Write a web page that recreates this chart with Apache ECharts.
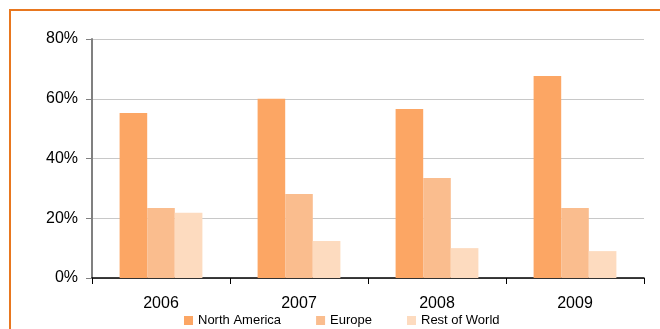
<!DOCTYPE html>
<html>
<head>
<meta charset="utf-8">
<script src="https://cdn.jsdelivr.net/npm/echarts@6/dist/echarts.min.js"></script>
<style>
html,body{margin:0;padding:0;background:#fff;}
#chart{width:660px;height:329px;}
</style>
</head>
<body>
<div id="chart"></div>
<script>
var years = ['2006', '2007', '2008', '2009'];
var northAmerica = [55.2, 60.0, 56.6, 67.6];
var europe = [23.4, 28.1, 33.5, 23.4];
var restOfWorld = [21.8, 12.4, 10.0, 9.0];
var yTicks = [0, 20, 40, 60, 80];

var myChart = echarts.init(document.getElementById('chart'));
var option = {
    animation: false,
    textStyle: {fontFamily: 'Liberation Sans, Arial, sans-serif'},
    graphic: [{
        type: 'rect',
        shape: {x: 10, y: 10, width: 700, height: 400},
        style: {fill: 'none', stroke: '#E8771F', lineWidth: 2},
        silent: true
    }],
    legend: {
        left: 184,
        top: 314,
        padding: 0,
        itemWidth: 9,
        itemHeight: 9,
        itemGap: 35,
        icon: 'rect',
        textStyle: {fontSize: 13, color: '#000'},
        data: ['North America', 'Europe', 'Rest of World']
    },
    grid: {left: 92, right: 16, top: 39, bottom: 51},
    xAxis: {
        type: 'category',
        data: years,
        axisLine: {lineStyle: {color: '#000', width: 1.5}},
        axisTick: {show: true, length: 6, lineStyle: {color: '#000'}},
        axisLabel: {fontSize: 16, color: '#000', margin: 18}
    },
    yAxis: {
        type: 'value',
        min: yTicks[0],
        max: yTicks[yTicks.length - 1],
        interval: 20,
        axisLine: {show: true, lineStyle: {color: '#808080', width: 2}},
        axisTick: {show: true, length: 6, lineStyle: {color: '#808080'}},
        axisLabel: {fontSize: 16, color: '#000', margin: 14, formatter: '{value}%'},
        splitLine: {lineStyle: {color: '#c8c8c8', width: 1}}
    },
    series: [{
        name: 'North America',
        type: 'bar',
        data: northAmerica,
        barGap: '0%',
        barCategoryGap: '40%',
        itemStyle: {color: '#FCA664'}
    }, {
        name: 'Europe',
        type: 'bar',
        data: europe,
        itemStyle: {color: '#FABD8E'}
    }, {
        name: 'Rest of World',
        type: 'bar',
        data: restOfWorld,
        itemStyle: {color: '#FDDBBF'}
    }]
};
myChart.setOption(option);
</script>
</body>
</html>
